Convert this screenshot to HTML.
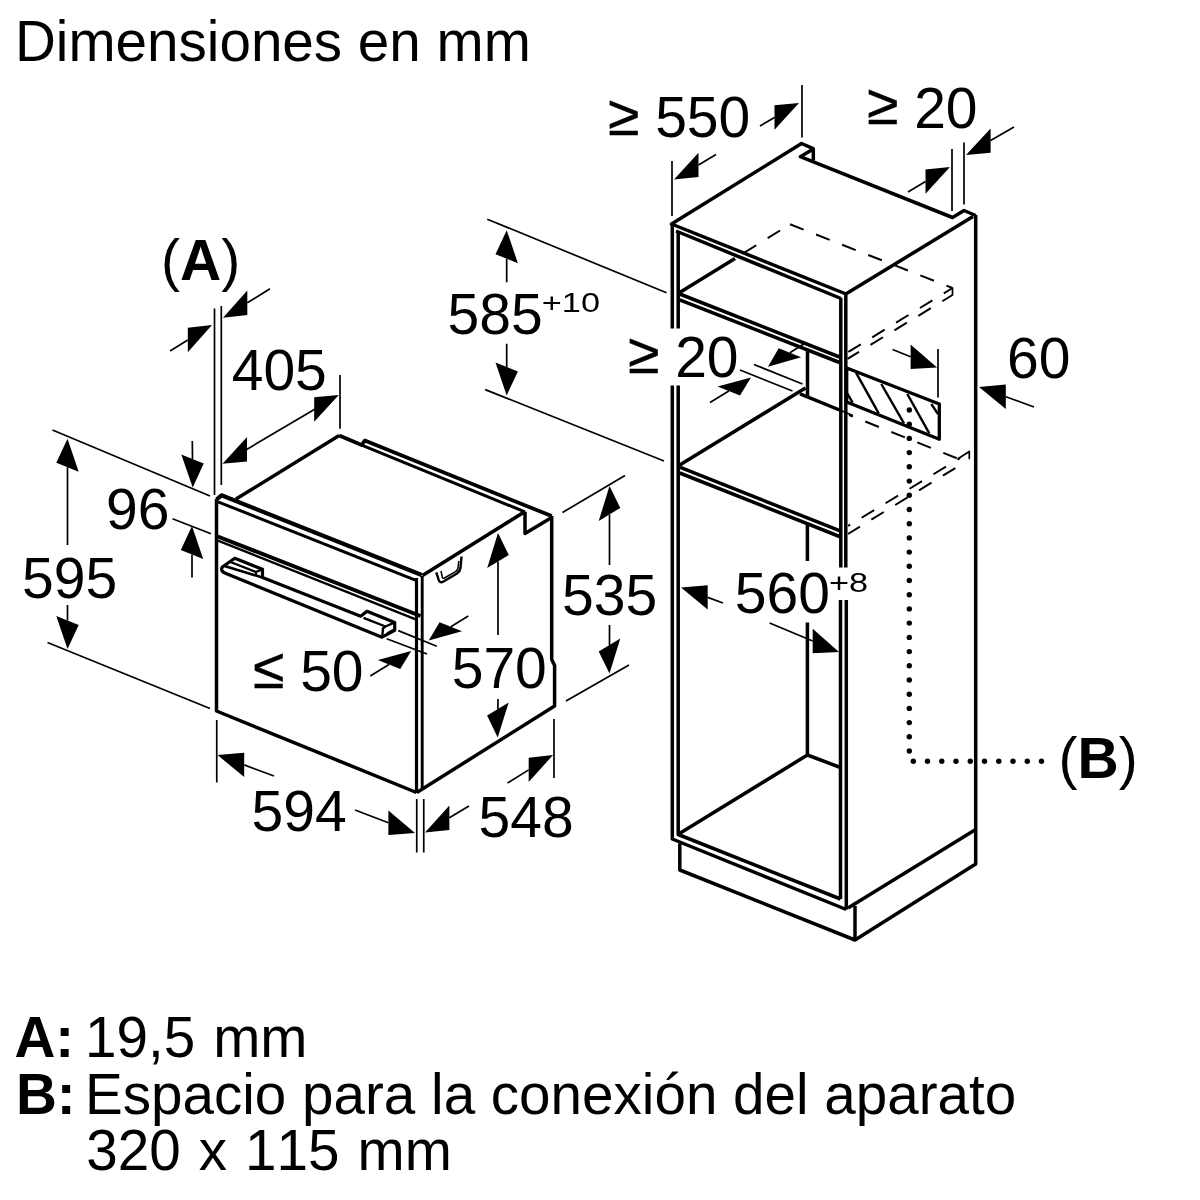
<!DOCTYPE html>
<html><head><meta charset="utf-8"><title>Dimensiones en mm</title>
<style>
html,body{margin:0;padding:0;background:#fff;}
svg{display:block;will-change:transform;}
svg text{font-family:"Liberation Sans",sans-serif;fill:#000;stroke:none;font-kerning:none;}
</style></head><body>
<svg width="1200" height="1200" viewBox="0 0 1200 1200" fill="none" stroke="#000" stroke-linecap="butt" stroke-linejoin="round">
<path d="M216.5,499 L216.5,711 L416.5,792.5" stroke-width="3.5" />
<line x1="416.5" y1="578" x2="416.5" y2="793" stroke-width="3.2" />
<line x1="422.2" y1="576" x2="422.2" y2="789" stroke-width="2.9" />
<path d="M216.5,499.5 L221.5,495.3 L421.7,575.0" stroke-width="4.2" />
<line x1="218" y1="501.8" x2="416" y2="580.3" stroke-width="3.0" />
<line x1="216.5" y1="536" x2="420.5" y2="616" stroke-width="4.0" />
<line x1="218" y1="540.6" x2="417" y2="619.8" stroke-width="2.4" />
<line x1="236" y1="499" x2="339.2" y2="435.6" stroke-width="3.5" />
<path d="M339.2,435.6 L361.7,445 L364.8,440.6 L551.7,516.1" stroke-width="3.8" />
<line x1="361.7" y1="445.2" x2="525" y2="511.9" stroke-width="3.0" />
<path d="M525,511.7 L525,533.5 L551.7,517.5" stroke-width="3.5" />
<line x1="523.5" y1="512.5" x2="422.5" y2="575.5" stroke-width="3.5" />
<path d="M551.7,516 L551.7,659.5 L554.6,665.5 L554.6,706 L416.8,792.5" stroke-width="3.5" />
<path d="M436.3,572.3 L438.7,580 Q439.8,583.5 443.5,581.5 L457,573.5 Q460,571.5 460.5,568 L461.5,556.5" stroke-width="2.4"/>
<path d="M441,571 L442.3,577 Q442.8,579 444.5,578 L455.5,571.6 Q457.6,570.3 458,568 L458.8,561" stroke-width="1.5"/>
<path d="M226,573.6 Q220,571.5 222.3,567 L234.8,558.3 L262.5,569.3 L262.5,577.5 L360.7,616.2 L367,611.3 L394.7,622.4 L394.7,630.3 L382,637.2 Z" stroke-width="3.2" stroke-linejoin="round"/>
<line x1="224.5" y1="566" x2="262.5" y2="577.5" stroke-width="2.6" />
<path d="M230.5,562 L255.8,572 L262.5,569.3" stroke-width="2.4" />
<line x1="255.8" y1="572" x2="256.3" y2="576" stroke-width="2.0" />
<path d="M363.5,617.8 L385.5,626.5 L394.7,622.4" stroke-width="2.4" />
<path d="M385.5,626.5 L383,628.3 L382.3,636.5" stroke-width="2.4" />
<line x1="387" y1="633" x2="393" y2="629.5" stroke-width="1.4" />
<line x1="398.3" y1="630.6" x2="436.8" y2="646.3" stroke-width="1.7" />
<line x1="386.7" y1="638.8" x2="427" y2="654" stroke-width="1.7" />
<polygon points="428.7,640.5 462.0,631.3 439.6,622.3" fill="#000" stroke="none"/>
<line x1="450.8" y1="626.8" x2="468.3" y2="616" stroke-width="1.7" />
<polygon points="411.2,651.0 400.2,669.1 377.8,660.1" fill="#000" stroke="none"/>
<line x1="389.0" y1="664.6" x2="370.3" y2="676" stroke-width="1.7" />
<text x="253" y="691" font-size="57" ><tspan dy="-2.7" stroke="#000" stroke-width="0.5">≤</tspan><tspan dy="2.7"> 50</tspan></text>
<line x1="214.5" y1="308.5" x2="214.5" y2="495" stroke-width="1.7" />
<line x1="221.3" y1="306" x2="221.3" y2="485" stroke-width="1.7" />
<polygon points="223.0,317.7 247.3,315.0 247.3,290.6" fill="#000" stroke="none"/>
<line x1="247.3" y1="302.8" x2="270" y2="288.75" stroke-width="1.7" />
<polygon points="212.0,325.0 187.8,352.2 187.8,327.8" fill="#000" stroke="none"/>
<line x1="187.8" y1="340.0" x2="170" y2="351" stroke-width="1.7" />
<text x="161" y="280" font-size="57">(<tspan font-weight="bold">A</tspan>)</text>
<text x="231.7" y="389.75" font-size="57" >405</text>
<line x1="340" y1="375" x2="340" y2="428.75" stroke-width="1.7" />
<polygon points="222.5,463.8 247.0,461.4 247.0,437.0" fill="#000" stroke="none"/>
<polygon points="338.8,395.0 314.2,421.7 314.2,397.3" fill="#000" stroke="none"/>
<line x1="245" y1="450.4" x2="316" y2="408.4" stroke-width="1.7" />
<line x1="52.5" y1="430" x2="210" y2="496" stroke-width="1.7" />
<line x1="47.5" y1="642.5" x2="210" y2="708.5" stroke-width="1.7" />
<polygon points="67.5,438.8 78.7,471.8 56.3,462.8" fill="#000" stroke="none"/>
<line x1="67.5" y1="467.2" x2="67.5" y2="545" stroke-width="1.7" />
<polygon points="67.5,649.0 78.7,625.0 56.3,616.0" fill="#000" stroke="none"/>
<line x1="67.5" y1="620.5" x2="67.5" y2="605" stroke-width="1.7" />
<text x="22" y="597.5" font-size="57" >595</text>
<text x="106" y="528.7" font-size="57" >96</text>
<polygon points="192.7,487.5 203.7,463.5 181.3,454.5" fill="#000" stroke="none"/>
<line x1="192.5" y1="459.0" x2="192.3" y2="441" stroke-width="1.7" />
<line x1="172.5" y1="518.75" x2="211" y2="533.75" stroke-width="1.7" />
<polygon points="192.0,526.0 203.2,559.0 180.8,550.0" fill="#000" stroke="none"/>
<line x1="192.0" y1="554.5" x2="192" y2="577.5" stroke-width="1.7" />
<polygon points="498.0,533.0 508.8,554.9 487.2,568.1" fill="#000" stroke="none"/>
<line x1="498.0" y1="561.5" x2="498" y2="635" stroke-width="1.7" />
<polygon points="497.7,737.5 508.7,702.4 487.1,715.6" fill="#000" stroke="none"/>
<line x1="497.9" y1="709.0" x2="498" y2="699" stroke-width="1.7" />
<text x="451.7" y="688.2" font-size="57" >570</text>
<line x1="562.5" y1="512.5" x2="625" y2="475.5" stroke-width="1.7" />
<line x1="566" y1="701" x2="629" y2="665" stroke-width="1.7" />
<polygon points="609.5,486.0 620.3,507.9 598.7,521.1" fill="#000" stroke="none"/>
<line x1="609.5" y1="514.5" x2="609.5" y2="565" stroke-width="1.7" />
<polygon points="609.5,673.5 620.3,638.4 598.7,651.6" fill="#000" stroke="none"/>
<line x1="609.5" y1="645.0" x2="609.5" y2="625" stroke-width="1.7" />
<text x="562" y="615.2" font-size="57" >535</text>
<line x1="216.75" y1="720" x2="216.75" y2="782.5" stroke-width="1.7" />
<polygon points="217.5,755.0 244.2,777.1 244.2,752.7" fill="#000" stroke="none"/>
<line x1="244.2" y1="764.9" x2="274" y2="776" stroke-width="1.7" />
<text x="251.5" y="830.5" font-size="57" >594</text>
<polygon points="415.0,833.0 388.4,835.0 388.4,810.6" fill="#000" stroke="none"/>
<line x1="388.4" y1="822.8" x2="355" y2="810" stroke-width="1.7" />
<line x1="416.75" y1="799" x2="416.75" y2="852.5" stroke-width="1.7" />
<line x1="423.75" y1="799" x2="423.75" y2="852.5" stroke-width="1.7" />
<polygon points="425.0,832.5 449.4,830.0 449.4,805.6" fill="#000" stroke="none"/>
<line x1="449.4" y1="817.8" x2="469" y2="806" stroke-width="1.7" />
<text x="478.5" y="837" font-size="57" >548</text>
<line x1="554" y1="719" x2="554" y2="778" stroke-width="1.7" />
<polygon points="553.0,755.0 528.7,782.1 528.7,757.7" fill="#000" stroke="none"/>
<line x1="528.7" y1="769.9" x2="507.5" y2="783" stroke-width="1.7" />
<path d="M846,294 L671.5,224 L801.5,143.5 L813.3,148.7 L813.3,160.5" stroke-width="3.5" />
<path d="M812.5,149.5 L800.3,156.7 L952.5,217.5 L964,210.5 L975.7,215.5" stroke-width="3.5" />
<line x1="845.8" y1="294" x2="973" y2="216.5" stroke-width="3.5" />
<path d="M975.7,215 L975.7,864 L855,940 L679.8,870 L679.8,843.5" stroke-width="3.5" />
<line x1="855" y1="940" x2="855" y2="906" stroke-width="3.5" />
<line x1="975.7" y1="829.5" x2="848" y2="908" stroke-width="3.5" />
<line x1="676" y1="231" x2="841" y2="298.5" stroke-width="3.5" />
<line x1="672.3" y1="224" x2="672.3" y2="328.5" stroke-width="3.5" />
<line x1="678.2" y1="231" x2="678.2" y2="328.5" stroke-width="3.5" />
<path d="M672.3,385.5 L672.3,839 L846.3,909.5" stroke-width="3.5" />
<path d="M678.2,385.5 L678.2,834.5 L840.5,899" stroke-width="3.5" />
<line x1="840.8" y1="298" x2="840.8" y2="567.5" stroke-width="3.5" />
<line x1="845.8" y1="294" x2="845.8" y2="567.5" stroke-width="3.5" />
<line x1="840.5" y1="600" x2="840.5" y2="899" stroke-width="3.5" />
<line x1="846.3" y1="600" x2="846.3" y2="909.5" stroke-width="3.5" />
<line x1="679.7" y1="292.5" x2="735" y2="258.5" stroke-width="3.5" />
<line x1="679.7" y1="294" x2="840.8" y2="357.5" stroke-width="3.5" />
<line x1="679.7" y1="299.9" x2="840.8" y2="363" stroke-width="3.5" />
<line x1="807.5" y1="349" x2="807.5" y2="396.7" stroke-width="3.5" />
<line x1="800" y1="393.8" x2="840.8" y2="410.5" stroke-width="3.5" />
<line x1="840.8" y1="410.5" x2="853" y2="415.5" stroke-width="1.7" />
<line x1="679.7" y1="465" x2="805.5" y2="388" stroke-width="3.5" />
<line x1="679.7" y1="467.2" x2="840.8" y2="531.2" stroke-width="3.5" />
<line x1="679.7" y1="473" x2="840.8" y2="537" stroke-width="3.5" />
<line x1="807.4" y1="525" x2="807.4" y2="561" stroke-width="3.5" />
<line x1="807.4" y1="622.5" x2="807.4" y2="755" stroke-width="3.5" />
<line x1="807.4" y1="755" x2="840.5" y2="767.5" stroke-width="3.5" />
<line x1="807.4" y1="755" x2="679.5" y2="833.5" stroke-width="3.5" />
<line x1="790" y1="224.3" x2="735" y2="258.5" stroke-width="2.0" stroke-dasharray="14.6 13.4" stroke-dashoffset="16.3"/>
<line x1="790" y1="224.3" x2="952.5" y2="288" stroke-width="2.0" stroke-dasharray="14.6 13.4" stroke-dashoffset="0"/>
<line x1="952.5" y1="287.5" x2="952.5" y2="295.5" stroke-width="1.7" />
<line x1="952.5" y1="288" x2="847.5" y2="352.5" stroke-width="2.0" stroke-dasharray="14.6 13.4" stroke-dashoffset="4.4"/>
<line x1="952.5" y1="295" x2="847.5" y2="358.8" stroke-width="2.0" stroke-dasharray="14.6 13.4" stroke-dashoffset="2.6"/>
<line x1="849" y1="415" x2="958" y2="458.7" stroke-width="2.0" stroke-dasharray="14.6 13.4" stroke-dashoffset="10.4"/>
<path d="M958,458.7 L969.3,451.5 L969.3,459.3" stroke-width="1.7" />
<line x1="960" y1="458.2" x2="848" y2="526" stroke-width="2.0" stroke-dasharray="14.6 13.4" stroke-dashoffset="11.6"/>
<line x1="966" y1="461.5" x2="848" y2="534" stroke-width="2.0" stroke-dasharray="14.6 13.4" stroke-dashoffset="15.5"/>
<path d="M846.7,368 L939.3,404 L939.3,439.3 L846.7,402 Z" stroke-width="3.3" />
<line x1="856" y1="372.7" x2="878.7" y2="413.3" stroke-width="2.4" />
<line x1="881.3" y1="384" x2="904" y2="423.3" stroke-width="2.4" />
<line x1="907.3" y1="394" x2="929.3" y2="433.3" stroke-width="2.4" />
<line x1="846.7" y1="392.7" x2="852.7" y2="402.7" stroke-width="2.4" />
<line x1="931.3" y1="404" x2="938" y2="414" stroke-width="2.4" />
<circle cx="909.3" cy="410.0" r="2.7" fill="#000" stroke="none"/>
<circle cx="909.3" cy="424.2" r="2.7" fill="#000" stroke="none"/>
<circle cx="909.3" cy="438.4" r="2.7" fill="#000" stroke="none"/>
<circle cx="909.3" cy="452.6" r="2.7" fill="#000" stroke="none"/>
<circle cx="909.3" cy="466.8" r="2.7" fill="#000" stroke="none"/>
<circle cx="909.3" cy="481.1" r="2.7" fill="#000" stroke="none"/>
<circle cx="909.3" cy="495.3" r="2.7" fill="#000" stroke="none"/>
<circle cx="909.3" cy="509.5" r="2.7" fill="#000" stroke="none"/>
<circle cx="909.3" cy="523.7" r="2.7" fill="#000" stroke="none"/>
<circle cx="909.3" cy="537.9" r="2.7" fill="#000" stroke="none"/>
<circle cx="909.3" cy="552.1" r="2.7" fill="#000" stroke="none"/>
<circle cx="909.3" cy="566.3" r="2.7" fill="#000" stroke="none"/>
<circle cx="909.3" cy="580.5" r="2.7" fill="#000" stroke="none"/>
<circle cx="909.3" cy="594.7" r="2.7" fill="#000" stroke="none"/>
<circle cx="909.3" cy="608.9" r="2.7" fill="#000" stroke="none"/>
<circle cx="909.3" cy="623.1" r="2.7" fill="#000" stroke="none"/>
<circle cx="909.3" cy="637.4" r="2.7" fill="#000" stroke="none"/>
<circle cx="909.3" cy="651.6" r="2.7" fill="#000" stroke="none"/>
<circle cx="909.3" cy="665.8" r="2.7" fill="#000" stroke="none"/>
<circle cx="909.3" cy="680.0" r="2.7" fill="#000" stroke="none"/>
<circle cx="909.3" cy="694.2" r="2.7" fill="#000" stroke="none"/>
<circle cx="909.3" cy="708.4" r="2.7" fill="#000" stroke="none"/>
<circle cx="909.3" cy="722.6" r="2.7" fill="#000" stroke="none"/>
<circle cx="909.3" cy="736.8" r="2.7" fill="#000" stroke="none"/>
<circle cx="909.3" cy="751.0" r="2.7" fill="#000" stroke="none"/>
<circle cx="913.3" cy="761.3" r="2.7" fill="#000" stroke="none"/>
<circle cx="927.5" cy="761.3" r="2.7" fill="#000" stroke="none"/>
<circle cx="941.8" cy="761.3" r="2.7" fill="#000" stroke="none"/>
<circle cx="956.0" cy="761.3" r="2.7" fill="#000" stroke="none"/>
<circle cx="970.3" cy="761.3" r="2.7" fill="#000" stroke="none"/>
<circle cx="984.5" cy="761.3" r="2.7" fill="#000" stroke="none"/>
<circle cx="998.8" cy="761.3" r="2.7" fill="#000" stroke="none"/>
<circle cx="1013.0" cy="761.3" r="2.7" fill="#000" stroke="none"/>
<circle cx="1027.3" cy="761.3" r="2.7" fill="#000" stroke="none"/>
<circle cx="1041.5" cy="761.3" r="2.7" fill="#000" stroke="none"/>
<text x="1058.5" y="778" font-size="57">(<tspan font-weight="bold">B</tspan>)</text>
<text x="608" y="137.3" font-size="57" ><tspan dy="-2.7" stroke="#000" stroke-width="0.5">≥</tspan><tspan dy="2.7"> 550</tspan></text>
<line x1="802" y1="85" x2="802" y2="137.5" stroke-width="1.7" />
<polygon points="799.0,103.0 774.5,129.7 774.5,105.3" fill="#000" stroke="none"/>
<line x1="774.5" y1="117.5" x2="760" y2="126" stroke-width="1.7" />
<line x1="672" y1="161" x2="672" y2="216" stroke-width="1.7" />
<polygon points="674.0,179.5 698.5,177.1 698.5,152.7" fill="#000" stroke="none"/>
<line x1="698.5" y1="164.9" x2="716" y2="154.5" stroke-width="1.7" />
<text x="867" y="127.5" font-size="57" ><tspan dy="-3.5" stroke="#000" stroke-width="0.5">≥</tspan><tspan dy="3.5"> 20</tspan></text>
<line x1="952" y1="149" x2="952" y2="211" stroke-width="1.7" />
<line x1="964" y1="142.5" x2="964" y2="204.5" stroke-width="1.7" />
<polygon points="966.0,155.0 990.6,152.8 990.6,128.4" fill="#000" stroke="none"/>
<line x1="990.6" y1="140.6" x2="1014" y2="127" stroke-width="1.7" />
<polygon points="950.0,167.0 925.5,193.8 925.5,169.4" fill="#000" stroke="none"/>
<line x1="925.5" y1="181.6" x2="908" y2="192" stroke-width="1.7" />
<line x1="487.3" y1="219.2" x2="666.5" y2="292.7" stroke-width="1.7" />
<line x1="485.2" y1="389.6" x2="664" y2="461" stroke-width="1.7" />
<polygon points="506.7,230.2 517.9,263.2 495.5,254.2" fill="#000" stroke="none"/>
<line x1="506.7" y1="258.7" x2="506.7" y2="282.3" stroke-width="1.7" />
<polygon points="506.7,395.4 517.9,371.4 495.5,362.4" fill="#000" stroke="none"/>
<line x1="506.7" y1="366.9" x2="506.7" y2="343.75" stroke-width="1.7" />
<text x="447.5" y="333.6" font-size="57" >585</text>
<text transform="translate(541.8,312.3) scale(1.27,1)" font-size="27">+10</text>
<text x="628" y="376.5" font-size="57" ><tspan dy="-3.5" stroke="#000" stroke-width="0.5">≥</tspan><tspan dy="3.5"> 20</tspan></text>
<line x1="754" y1="364.5" x2="802.5" y2="384" stroke-width="1.7" />
<line x1="740" y1="370" x2="792.5" y2="391" stroke-width="1.7" />
<polygon points="768.0,366.7 801.1,357.2 778.7,348.2" fill="#000" stroke="none"/>
<line x1="789.9" y1="352.7" x2="803.7" y2="344" stroke-width="1.7" />
<polygon points="751.0,377.5 740.0,395.5 717.6,386.5" fill="#000" stroke="none"/>
<line x1="728.8" y1="391.0" x2="710" y2="402.5" stroke-width="1.7" />
<text x="1007" y="378" font-size="57" >60</text>
<line x1="938" y1="349" x2="938" y2="397.5" stroke-width="1.7" />
<polygon points="937.0,367.5 910.6,369.0 910.6,344.6" fill="#000" stroke="none"/>
<line x1="910.6" y1="356.8" x2="892.5" y2="349.5" stroke-width="1.7" />
<polygon points="979.0,387.0 1005.8,408.9 1005.8,384.5" fill="#000" stroke="none"/>
<line x1="1005.8" y1="396.7" x2="1034" y2="407" stroke-width="1.7" />
<text x="734.8" y="613.2" font-size="57" >560</text>
<text transform="translate(829,592.3) scale(1.27,1)" font-size="27">+8</text>
<polygon points="681.0,587.5 707.7,609.6 707.7,585.2" fill="#000" stroke="none"/>
<line x1="707.7" y1="597.4" x2="723" y2="603" stroke-width="1.7" />
<polygon points="839.0,652.0 812.7,653.2 812.7,628.8" fill="#000" stroke="none"/>
<line x1="812.7" y1="641.0" x2="769.6" y2="623" stroke-width="1.7" />
<text x="15" y="60.5" font-size="56.6" >Dimensiones en mm</text>
<text x="14.4" y="1057" font-size="56.6" font-weight="bold" >A:</text>
<text x="85" y="1057" font-size="56.6" word-spacing="2.3">19,5 mm</text>
<text x="16" y="1113.6" font-size="56.6" font-weight="bold" >B:</text>
<text x="85" y="1113.6" font-size="56.6" >Espacio para la conexión del aparato</text>
<text x="86.3" y="1170.2" font-size="56.6" word-spacing="2.3">320 x 115 mm</text>
</svg>
</body></html>
